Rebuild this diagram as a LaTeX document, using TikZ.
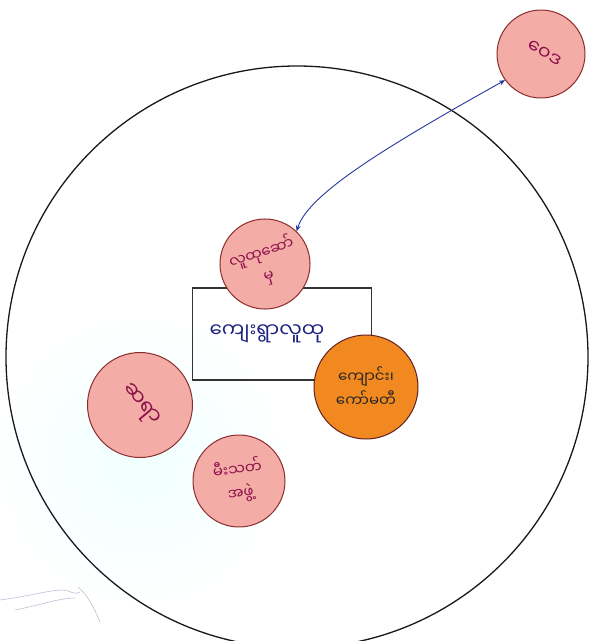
\documentclass[tikz,border=0pt]{standalone}
\usepackage{fontspec}
\newfontfamily\mya[Script=Myanmar]{Noto Sans Myanmar UI}
\usetikzlibrary{arrows.meta}
\definecolor{pinkfill}{RGB}{244,172,166}
\definecolor{pinkedge}{RGB}{140,45,45}
\definecolor{orangefill}{RGB}{241,136,32}
\definecolor{inkred}{RGB}{140,15,75}
\definecolor{inkblue}{RGB}{30,35,130}
\definecolor{arrowblue}{RGB}{40,55,160}
\tikzset{
  actor/.style={circle, draw=pinkedge, line width=1pt, fill=pinkfill, inner sep=0pt,
    font=\mya\fontsize{15}{24}\selectfont, text=inkred, align=center},
  orangeactor/.style={actor, draw=pinkedge!70!black, fill=orangefill, text=black!85},
  link/.style={draw=arrowblue, line width=0.9pt, {Stealth[length=6pt,width=5pt]}-{Stealth[length=6pt,width=5pt]}}
}
\begin{document}
\begin{tikzpicture}[x=1pt,y=-1pt]
\useasboundingbox (0,0) rectangle (589,641);
\fill[white] (0,0) rectangle (589,641);
\shade[inner color=cyan!6, outer color=white] (140,460) circle (150);
% big circle
\draw[line width=1.3pt, black!90] (297,357) circle (291);
% faint scribble
\draw[blue!25!gray!40, line width=0.6pt] (0,600) .. controls (30,596) and (50,590) .. (62,590) .. controls (70,590) and (75,596) .. (80,592);
\draw[blue!25!gray!40, line width=0.6pt] (15,610) .. controls (40,605) and (60,598) .. (75,598);
\draw[blue!25!gray!40, line width=0.6pt] (78,587) .. controls (88,595) and (95,610) .. (100,622);
% central box
\node[draw=black!80, line width=1.1pt, minimum width=179pt, minimum height=92pt, inner sep=0pt,
      text=inkblue, font=\mya\fontsize{20}{22}\selectfont] (box) at (282,334) {\hspace*{-30pt}ကျေးရွာလူထု};
% actors
\node[actor, minimum size=90pt, rotate=18] (tc) at (265,264) {လူထုဆော်\\မှ};
\node[actor, minimum size=88pt, rotate=-30, font=\mya\fontsize{19}{20}\selectfont] (ext) at (541,54) {\raisebox{4pt}{\hspace*{6pt}ဝေဒ}};
\node[orangeactor, minimum size=104pt] (sc) at (366,387) {ကျောင်း၊\\ကော်မတီ};
\node[actor, minimum size=105pt, rotate=-50, font=\mya\fontsize{21}{22}\selectfont] (tr) at (140,405) {ဆရာ};
\node[actor, minimum size=92pt, rotate=8] (fb) at (239,481) {မီးသတ်\\အဖွဲ့};
% link (anchors are in each node's rotated frame)
\draw[link] (tc.28) .. controls (308,195) and (380,150) .. (ext.246);
\end{tikzpicture}
\end{document}
